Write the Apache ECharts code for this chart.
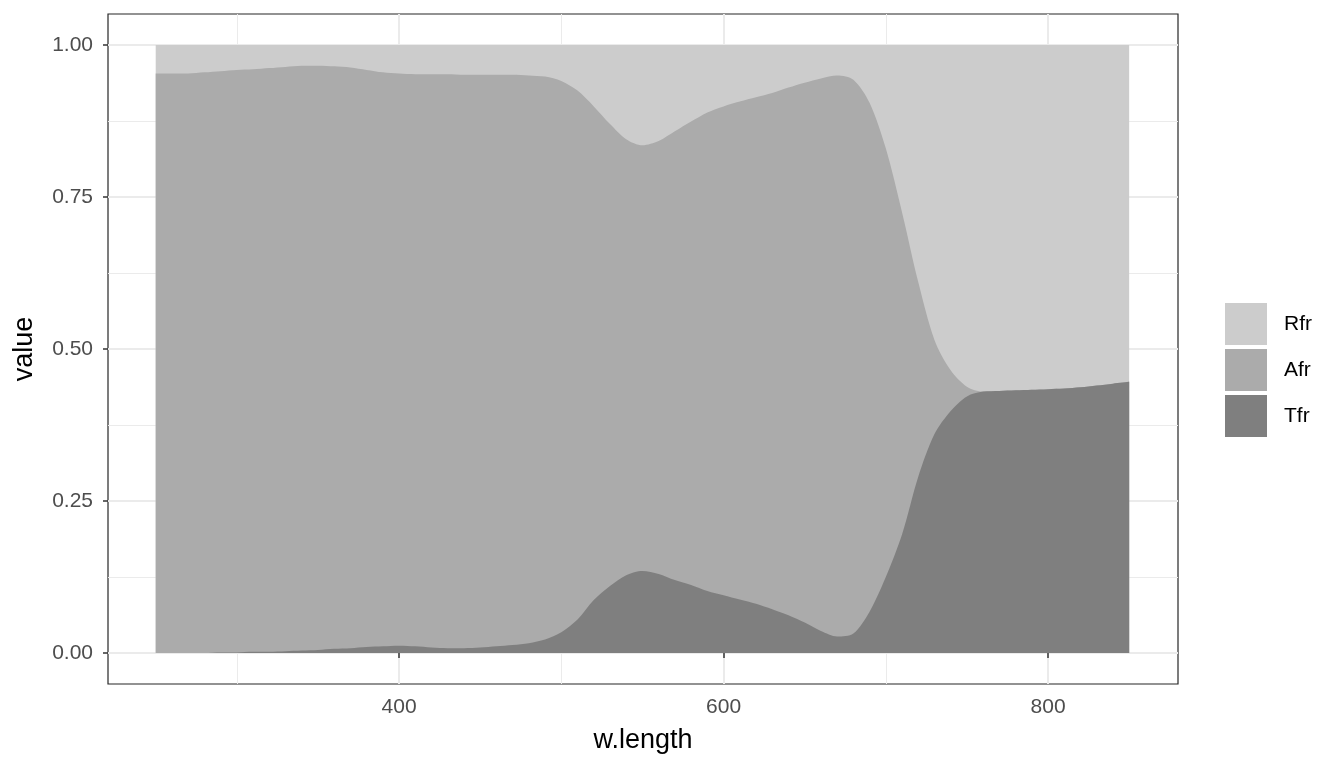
<!DOCTYPE html>
<html>
<head>
<meta charset="utf-8">
<script src="https://cdn.jsdelivr.net/npm/echarts@6/dist/echarts.min.js"></script>
<style>
html,body{margin:0;padding:0;background:#fff;}
#chart{width:1344px;height:768px;}
</style>
</head>
<body>
<div id="chart"></div>
<script>
// wavelength (nm)
const wLength = [250,260,270,280,290,300,310,320,330,340,350,360,370,380,390,400,410,420,430,440,450,460,470,480,490,500,510,520,530,540,550,560,570,580,590,600,610,620,630,640,650,660,670,680,690,700,710,720,730,740,750,760,770,780,790,800,810,820,830,840,850];
// transmitted fraction
const Tfr = [0.000,0.000,0.000,0.000,0.001,0.001,0.002,0.002,0.003,0.004,0.005,0.007,0.008,0.010,0.011,0.012,0.011,0.009,0.008,0.008,0.009,0.011,0.013,0.016,0.022,0.034,0.055,0.087,0.110,0.128,0.135,0.130,0.120,0.112,0.102,0.095,0.088,0.081,0.072,0.062,0.050,0.036,0.027,0.032,0.068,0.125,0.195,0.290,0.360,0.398,0.422,0.430,0.431,0.432,0.433,0.434,0.435,0.437,0.440,0.443,0.446];
// absorbed fraction
const Afr = [0.953,0.953,0.953,0.955,0.956,0.958,0.958,0.960,0.961,0.962,0.961,0.958,0.955,0.949,0.944,0.941,0.941,0.943,0.944,0.943,0.942,0.940,0.938,0.934,0.926,0.907,0.870,0.812,0.760,0.717,0.700,0.712,0.738,0.762,0.787,0.804,0.819,0.833,0.849,0.868,0.888,0.909,0.923,0.911,0.837,0.705,0.530,0.320,0.155,0.067,0.016,0.000,0.000,0.000,0.000,0.000,0.000,0.000,0.000,0.000,0.000];
// reflected fraction
const Rfr = [0.047,0.047,0.047,0.045,0.043,0.041,0.040,0.038,0.036,0.034,0.034,0.035,0.037,0.041,0.045,0.047,0.048,0.048,0.048,0.049,0.049,0.049,0.049,0.050,0.052,0.059,0.075,0.101,0.130,0.155,0.165,0.158,0.142,0.126,0.111,0.101,0.093,0.086,0.079,0.070,0.062,0.055,0.050,0.057,0.095,0.170,0.275,0.390,0.485,0.535,0.562,0.570,0.569,0.568,0.567,0.566,0.565,0.563,0.560,0.557,0.554];

// stacking order, bottom to top
const seriesNames = ['Tfr','Afr','Rfr'];
const seriesValues = [Tfr, Afr, Rfr];
const seriesColors = ['#7f7f7f','#ababab','#cccccc'];
const legendOrder = ['Rfr','Afr','Tfr'];

const X_MIN = 220.6, X_MAX = 880.1, Y_MIN = -0.051, Y_MAX = 1.051;
const font = 'Liberation Sans, Arial, sans-serif';

// cumulative (stacked) tops, built from the arrays above
const cumulative = [];
let running = wLength.map(() => 0);
seriesValues.forEach(vals => {
  running = running.map((r, j) => r + vals[j]);
  cumulative.push(running.slice());
});

const chart = echarts.init(document.getElementById('chart'), null, {renderer:'canvas'});

const series = seriesNames.map((name, i) => ({
  name: name,
  type: 'line',
  xAxisIndex: 0,
  yAxisIndex: 0,
  data: wLength.map((w, j) => [w, cumulative[i][j]]),
  showSymbol: false,
  symbol: 'none',
  smooth: 0.3,
  color: seriesColors[i],
  itemStyle: {color: seriesColors[i]},
  lineStyle: {width: 0, color: seriesColors[i]},
  areaStyle: {color: seriesColors[i], opacity: 1, origin: 'auto'},
  emphasis: {disabled: true},
  z: 10 - i
}));

const splitMajor = {show:true, showMinLine:false, showMaxLine:false, lineStyle:{color:'#ebebeb', width:2}};
const splitMinor = {show:true, showMinLine:false, showMaxLine:false, lineStyle:{color:'#ebebeb', width:1}};

const option = {
  animation: false,
  backgroundColor: '#ffffff',
  grid: {left:108, right:166, top:14, bottom:84, show:true, borderColor:'#262626', borderWidth:1.2, backgroundColor:'#ffffff', containLabel:false},
  legend: {
    data: legendOrder,
    orient: 'vertical',
    left: 1225,
    top: 303,
    padding: 0,
    itemWidth: 42,
    itemHeight: 42,
    itemGap: 4,
    icon: 'rect',
    selectedMode: false,
    textStyle: {fontFamily: font, fontSize: 21, color:'#000000', padding:[0,0,0,12]}
  },
  xAxis: [
    {
      type:'value', min:X_MIN, max:X_MAX, minInterval:200, maxInterval:200,
      name:'w.length', nameLocation:'middle', nameGap:43,
      nameTextStyle:{fontFamily:font, fontSize:27, color:'#000000'},
      axisLine:{show:false},
      axisTick:{show:true, length:5, lineStyle:{color:'#333333', width:1.5}},
      axisLabel:{fontFamily:font, fontSize:21, color:'#4d4d4d', margin:13, showMinLabel:false, showMaxLabel:false,
        formatter: v => (v % 200 === 0 ? String(v) : '')},
      splitLine: splitMajor,
      z: 1
    },
    {
      type:'value', min:X_MIN, max:X_MAX, minInterval:100, maxInterval:100,
      axisLine:{show:false}, axisTick:{show:false}, axisLabel:{show:false},
      splitLine: splitMinor,
      position:'bottom', z: 0
    }
  ],
  yAxis: [
    {
      type:'value', min:Y_MIN, max:Y_MAX, minInterval:0.25, maxInterval:0.25,
      name:'value', nameLocation:'middle', nameGap:70,
      nameTextStyle:{fontFamily:font, fontSize:27, color:'#000000'},
      axisLine:{show:false},
      axisTick:{show:true, length:5, lineStyle:{color:'#333333', width:1.5}},
      axisLabel:{fontFamily:font, fontSize:21, color:'#4d4d4d', margin:15, showMinLabel:false, showMaxLabel:false,
        formatter: v => (Math.abs(Math.round(v*100) - v*100) < 1e-6 && Math.round(v*100) % 25 === 0 ? v.toFixed(2) : '')},
      splitLine: splitMajor,
      z: 1
    },
    {
      type:'value', min:Y_MIN, max:Y_MAX, minInterval:0.125, maxInterval:0.125,
      axisLine:{show:false}, axisTick:{show:false}, axisLabel:{show:false},
      splitLine: splitMinor,
      position:'left', z: 0
    }
  ],
  series: series
};
chart.setOption(option);
</script>
</body>
</html>
